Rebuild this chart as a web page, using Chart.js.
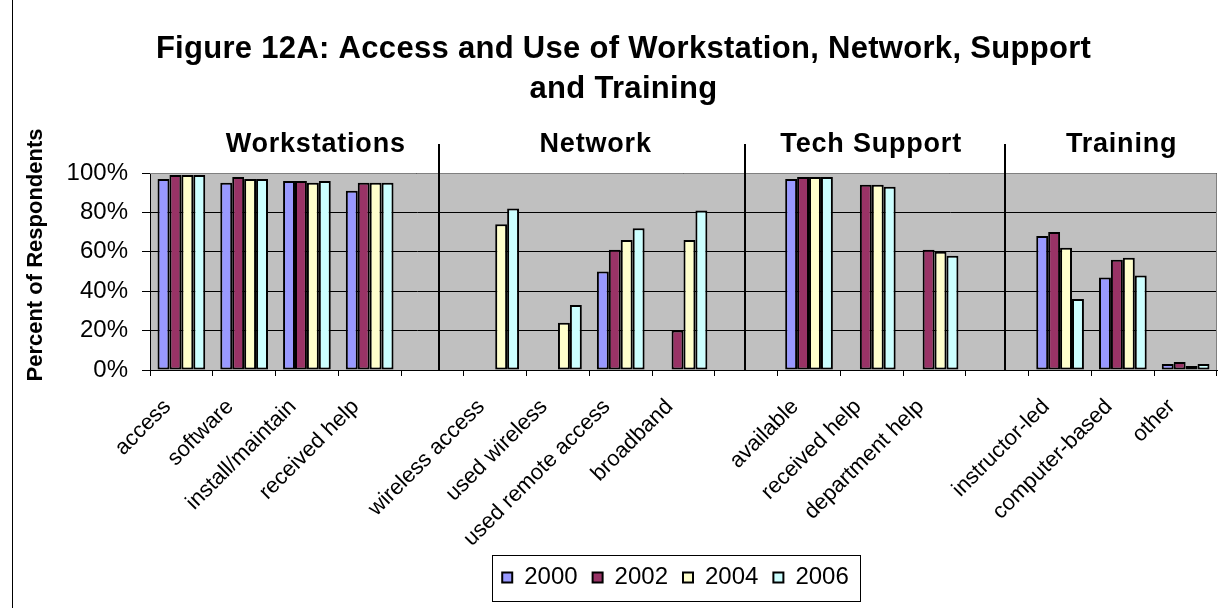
<!DOCTYPE html>
<html>
<head>
<meta charset="utf-8">
<script src="https://cdn.jsdelivr.net/npm/chart.js@4"></script>
<style>
  html, body { margin: 0; padding: 0; background: #fff; }
  #wrap { width: 1225px; height: 608px; position: relative; }
  canvas { display: block; }
</style>
</head>
<body>
<div id="wrap"><canvas id="c" width="1225" height="608"></canvas></div>
<script>
// ---------------- data ----------------
const categories = [
  'access', 'software', 'install/maintain', 'received help', '',
  'wireless access', 'used wireless', 'used remote access', 'broadband', '',
  'available', 'received help', 'department help', '',
  'instructor-led', 'computer-based', 'other'
];
const seriesNames = ['2000', '2002', '2004', '2006'];
const values2000 = [97, 95, 96, 91, null, null, null, 50, null, null, 97, null, null, null, 68, 47, 3];
const values2002 = [99, 98, 96, 95, null, null, null, 61, 20, null, 98, 94, 61, null, 70, 56, 4];
const values2004 = [99, 97, 95, 95, null, 74, 24, 66, 66, null, 98, 94, 60, null, 62, 57, 2];
const values2006 = [99, 97, 96, 95, null, 82, 33, 72, 81, null, 98, 93, 58, null, 36, 48, 3];
const yTickValues = [0, 20, 40, 60, 80, 100];
const titleLines = ['Figure 12A: Access and Use of Workstation, Network, Support', 'and Training'];
const yAxisTitle = 'Percent of Respondents';
const sectionNames = ['Workstations', 'Network', 'Tech Support', 'Training'];

// ---------------- layout / style (not data) ----------------
const FONT = '"Liberation Sans", Arial, Helvetica, sans-serif';
const seriesColors = ['#9999FF', '#993366', '#FFFFCC', '#CCFFFF'];
const LAYOUT = {
  sectionCenters: [2.14, 6.60, 10.99, 14.98],   // in category units
  sectionBaselineAbovePlot: 21,
  dividers: [4.10, 8.98, 13.12],                // in category units
  dividerTopAbovePlot: 29,
  legendShift: -8
};

Chart.defaults.font.family = FONT;
Chart.defaults.color = '#000';

const decor = {
  id: 'decor',
  afterLayout(chart) {
    const lg = chart.legend;
    if (lg) { lg.left += LAYOUT.legendShift; lg.right += LAYOUT.legendShift; }
  },
  beforeDraw(chart) {
    const { ctx, chartArea: a } = chart;
    ctx.save();
    ctx.fillStyle = '#ffffff';
    ctx.fillRect(0, 0, chart.width, chart.height);
    ctx.fillStyle = '#C0C0C0';
    ctx.fillRect(a.left, a.top, a.right - a.left, a.bottom - a.top);
    ctx.restore();
    const t = chart.titleBlock;
    if (t && !t._ls) {
      const orig = t.draw.bind(t);
      t.draw = function (...args) {
        ctx.save();
        ctx.letterSpacing = '0.3px';
        orig(...args);
        ctx.restore();
      };
      t._ls = true;
    }
  },
  beforeDatasetsDraw(chart) {
    const { ctx, chartArea: a } = chart;
    ctx.save();
    ctx.strokeStyle = '#808080';
    ctx.lineWidth = 1;
    ctx.beginPath();
    ctx.moveTo(a.left, Math.round(a.top) + 0.5);
    ctx.lineTo(Math.round(a.right) - 0.5, Math.round(a.top) + 0.5);
    ctx.lineTo(Math.round(a.right) - 0.5, a.bottom);
    ctx.stroke();
    ctx.restore();
  },
  afterDatasetsDraw(chart) {
    const { ctx, chartArea: a } = chart;
    const xs = chart.scales.x;
    ctx.save();
    ctx.strokeStyle = '#000';
    ctx.lineWidth = 2;
    LAYOUT.dividers.forEach(v => {
      const px = Math.round(xs.getPixelForValue(v));
      ctx.beginPath();
      ctx.moveTo(px, a.top - LAYOUT.dividerTopAbovePlot);
      ctx.lineTo(px, a.bottom);
      ctx.stroke();
    });
    ctx.restore();
  },
  afterDraw(chart) {
    const { ctx, chartArea: a } = chart;
    const xs = chart.scales.x;
    ctx.save();
    // section headers
    ctx.fillStyle = '#000';
    ctx.font = 'bold 27px ' + FONT;
    ctx.letterSpacing = '0.8px';
    ctx.textAlign = 'center';
    ctx.textBaseline = 'alphabetic';
    sectionNames.forEach((name, i) => {
      ctx.fillText(name, xs.getPixelForValue(LAYOUT.sectionCenters[i]), a.top - LAYOUT.sectionBaselineAbovePlot);
    });
    ctx.letterSpacing = '0px';
    // y axis title
    ctx.save();
    ctx.translate(36, (a.top + a.bottom) / 2 - 16.5);
    ctx.rotate(-Math.PI / 2);
    ctx.font = 'bold 22px ' + FONT;
    ctx.textAlign = 'center';
    ctx.textBaseline = 'middle';
    ctx.fillText(yAxisTitle, 0, 0);
    ctx.restore();
    // legend frame
    const hb = chart.legend && chart.legend.legendHitBoxes;
    if (hb && hb.length) {
      const f = hb[0], l = hb[hb.length - 1];
      const cy = f.top + f.height / 2;
      const x0 = Math.round(f.left - 10), x1 = Math.round(l.left + l.width + 11);
      ctx.strokeStyle = '#000';
      ctx.lineWidth = 1;
      ctx.strokeRect(x0 + 0.5, Math.round(cy - 23) + 0.5, x1 - x0, 46);
    }
    // outer chart border (left edge visible)
    ctx.strokeStyle = '#000';
    ctx.lineWidth = 1;
    ctx.beginPath();
    ctx.moveTo(12.5, 0);
    ctx.lineTo(12.5, chart.height);
    ctx.stroke();
    ctx.restore();
  }
};

const datasets = [values2000, values2002, values2004, values2006].map((vals, i) => ({
  label: seriesNames[i],
  data: vals,
  backgroundColor: seriesColors[i],
  borderColor: '#000',
  borderWidth: 2,
  borderSkipped: false,
  categoryPercentage: 0.76,
  barPercentage: 1.0
}));

new Chart(document.getElementById('c'), {
  type: 'bar',
  data: { labels: categories, datasets },
  options: {
    responsive: false,
    animation: false,
    layout: { padding: { left: 30, right: 8, top: 0, bottom: 8.5 } },
    scales: {
      x: {
        offset: true,
        grid: { drawOnChartArea: false, color: '#000', tickLength: 6, offset: true, lineWidth: 1 },
        border: { color: '#000', width: 1 },
        ticks: {
          autoSkip: false, minRotation: 45, maxRotation: 45,
          font: { size: 22 }, color: '#000', padding: 18, labelOffset: -14
        },
        afterFit(scale) { scale.height = 180.5; scale.paddingLeft = 0; scale.paddingRight = 0; }
      },
      y: {
        min: 0, max: 100,
        afterBuildTicks(scale) { scale.ticks = yTickValues.map(v => ({ value: v })); },
        grid: { color: '#000', tickLength: 8, lineWidth: 1 },
        border: { color: '#000', width: 1 },
        ticks: { callback: v => v + '%', font: { size: 24 }, color: '#000', padding: 14 },
        afterFit(scale) { scale.width = 120; }
      }
    },
    plugins: {
      tooltip: { enabled: false },
      title: {
        display: true,
        text: titleLines,
        color: '#000',
        font: { size: 31, weight: 'bold', lineHeight: '40px' },
        padding: { top: 29, bottom: 64 }
      },
      legend: {
        display: true,
        position: 'bottom',
        fullSize: false,
        labels: {
          boxWidth: 10, boxHeight: 10, padding: 15,
          font: { size: 24 }, color: '#000'
        }
      }
    }
  },
  plugins: [decor]
});
</script>
</body>
</html>
